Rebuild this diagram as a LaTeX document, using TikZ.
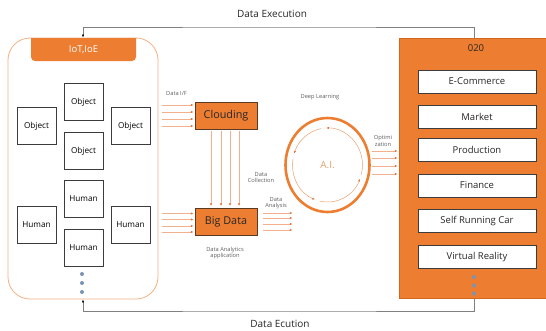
\documentclass[tikz,border=0pt]{standalone}
\usepackage{fontspec}
\setmainfont{Open Sans}
\usetikzlibrary{arrows.meta,calc}

\definecolor{orMain}{HTML}{ED7D31}
\definecolor{orEdge}{HTML}{D2671E}
\definecolor{orLight}{HTML}{F4B183}
\definecolor{orFlow}{HTML}{F3B08C}
\definecolor{orHead}{HTML}{E2733A}
\definecolor{orText}{HTML}{E9A070}
\definecolor{boxEdge}{HTML}{3C3C3C}
\definecolor{brownEdge}{HTML}{5A3A22}
\definecolor{linkGrey}{HTML}{808080}
\definecolor{noteGrey}{HTML}{5F5F5F}
\definecolor{dotBlue}{HTML}{7A94B4}

\tikzset{
  entity/.style={draw=boxEdge, line width=0.7pt, fill=white, minimum width=39pt,
    minimum height=37pt, inner sep=0pt, font=\fontsize{8.2}{9}\selectfont},
  hub/.style={draw=brownEdge, line width=0.9pt, fill=orMain, minimum width=62pt,
    minimum height=27pt, inner sep=0pt, font=\fontsize{10.8}{12}\selectfont, text=black!85},
  service/.style={draw=boxEdge, line width=0.9pt, fill=white, minimum width=118pt,
    minimum height=23pt, inner sep=0pt, font=\fontsize{9.5}{11}\selectfont, text=black!85},
  flow/.style={draw=orFlow, line width=0.45pt, -{Latex[length=2.6pt,width=2.2pt,color=orHead]}},
  loopflow/.style={draw=orText, line width=0.5pt, -{Latex[length=2.6pt,width=2.2pt,color=orHead]}},
  link/.style={draw=linkGrey, line width=0.6pt, -{Latex[length=3pt,width=2.4pt,color=black]}},
  note/.style={font=\fontsize{5.7}{6.7}\selectfont, text=noteGrey, align=center, inner sep=0pt},
  caption/.style={font=\fontsize{10}{12}\selectfont, text=black!85, inner sep=0pt},
  moredot/.style={circle, fill=dotBlue, minimum size=4pt, inner sep=0pt},
}

\begin{document}
\begin{tikzpicture}[x=1pt,y=1pt]
\useasboundingbox (0,0) rectangle (546,-330);

% ---- IoT / IoE container ----
\node[draw=orLight, line width=0.8pt, rounded corners=22pt, minimum width=150pt,
      minimum height=261pt, inner sep=0pt] (iot) at (83,-168.5) {};
\fill[orMain, rounded corners=4pt] (31,-38) -- (31,-61) -- (136,-61) -- (136,-38);
\node[text=white, font=\fontsize{9.5}{11}\selectfont, inner sep=0pt] (hdr) at (83.5,-49.5) {IoT,IoE};

\node[entity] (objL) at (36.5,-126) {Object};
\node[entity] (objT) at (83.5,-102) {Object};
\node[entity] (objR) at (130.5,-126) {Object};
\node[entity] (objB) at (83.5,-151) {Object};

\node[entity] (humT) at (83.5,-199) {Human};
\node[entity] (humL) at (36.5,-224.5) {Human};
\node[entity] (humR) at (130.5,-224.5) {Human};
\node[entity] (humB) at (83.5,-247.5) {Human};

\node[moredot] (ldot1) at (82,-274) {};
\node[moredot] (ldot2) at (82,-283) {};
\node[moredot] (ldot3) at (82,-292) {};

% ---- Clouding / Big Data ----
\node[hub] (cloud) at (226,-115.5) {Clouding};
\node[hub] (bigdata) at (226,-221.5) {Big Data};

\node[note, anchor=west] (lblIF) at (166,-93) {Data I/F};
\node[note] (lblColl) at (261,-177.5) {Data\\Collection};
\node[note] (lblAnal) at (276,-203) {Data\\Analysis};
\node[note] (lblApp) at (225,-253) {Data Analytics\\application};

\foreach \s in {10.5,3.5,-3.5,-10.5}
  \draw[flow] ([xshift=-33pt,yshift=\s pt]cloud.west) -- ([xshift=-1pt,yshift=\s pt]cloud.west);
\foreach \s in {8,2,-4.5,-10.5}
  \draw[flow] ([xshift=-33pt,yshift=\s pt]bigdata.west) -- ([xshift=-1pt,yshift=\s pt]bigdata.west);
\foreach \s in {-15,-5,4,13}
  \draw[flow] ([xshift=\s pt,yshift=-2pt]cloud.south) -- ([xshift=\s pt,yshift=1.5pt]bigdata.north);
\foreach \s in {8.5,3.5,-2.5,-8.5}
  \draw[flow] ([xshift=6pt,yshift=\s pt]bigdata.east) -- ([xshift=35pt,yshift=\s pt]bigdata.east);

% ---- A.I. loop ----
\node[text=orText, font=\fontsize{10}{12}\selectfont, inner sep=0pt] (ai) at (327.5,-165) {A.I.};
\draw[orMain, line width=2.6pt] (ai.center) ellipse [x radius=42pt, y radius=47pt];
\draw[loopflow] ($(ai.center)+(-15:35pt and 37pt)$) arc[start angle=-15, end angle=92, x radius=35pt, y radius=37pt];
\draw[loopflow] ($(ai.center)+(100:35pt and 37pt)$) arc[start angle=100, end angle=162, x radius=35pt, y radius=37pt];
\draw[loopflow] ($(ai.center)+(170:35pt and 37pt)$) arc[start angle=170, end angle=249, x radius=35pt, y radius=37pt];
\draw[loopflow] ($(ai.center)+(257:35pt and 37pt)$) arc[start angle=257, end angle=338, x radius=35pt, y radius=37pt];

\node[note] (lblDeep) at (320,-97) {Deep Learning};
\node[note] (lblOpt) at (383,-141) {Optimi\\zation};

% ---- O2O services ----
\node[draw=orEdge, line width=0.7pt, fill=orMain, minimum width=150pt, minimum height=260pt,
      inner sep=0pt, anchor=north west] (o2o) at (399,-38) {};
\node[font=\fontsize{9.5}{11}\selectfont, text=black!85, inner sep=0pt] (o2oTitle) at (476,-48.5) {020};

\node[service] (ecom) at (477,-81.5) {E-Commerce};
\node[service] (market) at (477,-116.5) {Market};
\node[service] (prod) at (477,-150) {Production};
\node[service] (fin) at (477,-185.5) {Finance};
\node[service] (car) at (477,-221) {Self Running Car};
\node[service] (vr) at (477,-257) {Virtual Reality};

\node[moredot] (rdot1) at (474,-277) {};
\node[moredot] (rdot2) at (474,-285.5) {};
\node[moredot] (rdot3) at (474,-293.5) {};

\foreach \s in {14,7,-1,-9}
  \draw[flow] ([xshift=44.5pt,yshift=\s pt]ai.center) -- ([xshift=-1.5pt]o2o.west |- {$(ai.center)+(0,\s)$});

% ---- feedback loops between O2O and IoT ----
\coordinate (execTop) at (280,-27);
\coordinate (execBot) at (280,-311);
\draw[link] (o2o.north -| rdot2) |- (execTop) -| (iot.north);
\draw[link] (o2o.south -| rdot2) |- (execBot) -| (iot.south);

\node[caption] (lblExec) at (272,-14) {Data Execution};
\node[caption] (lblEcut) at (280,-324) {Data Ecution};
\end{tikzpicture}
\end{document}
